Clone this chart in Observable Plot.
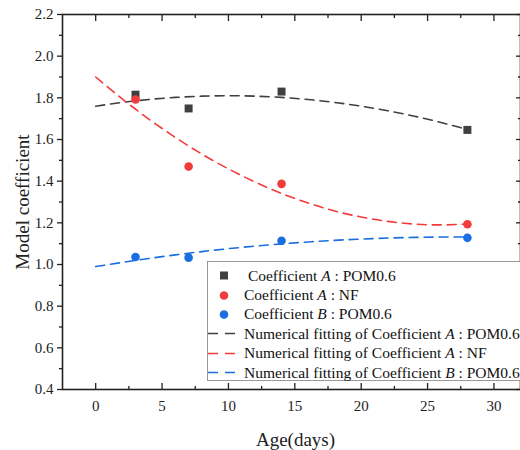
<!DOCTYPE html>
<html>
<head>
<meta charset="utf-8">
<script src="https://cdn.jsdelivr.net/npm/d3@7"></script>
<script src="https://cdn.jsdelivr.net/npm/@observablehq/plot@0.6"></script>
<style>
  html, body { margin: 0; padding: 0; background: #fff; }
  #wrap { position: relative; width: 520px; height: 450px; overflow: hidden; font-family: "Liberation Serif", "Times New Roman", serif; }
  #legend { position: absolute; left: 207px; top: 261px; width: 330px; height: 120px; border: 1px solid #9a9a9a; background: #fff; box-sizing: border-box; padding-top: 4px; }
  .row { height: 19.4px; display: flex; align-items: center; font-size: 15.5px; color: #111; white-space: nowrap; }
  .sw { width: 36px; height: 19px; flex: none; }
</style>
</head>
<body>
<div id="wrap"></div>
<script>
// ---- data ----
const days = [3, 7, 14, 28];
const coefA_POM = [1.815, 1.749, 1.830, 1.646];
const coefA_NF = [1.792, 1.470, 1.387, 1.193];
const coefB_POM = [1.036, 1.033, 1.114, 1.128];

const fitDays = [0, 2, 4, 6, 8, 10, 12, 14, 16, 18, 20, 22, 24, 26, 28];
const fitA_POM = [1.760, 1.778, 1.792, 1.802, 1.808, 1.810, 1.808, 1.802, 1.792, 1.778, 1.760, 1.738, 1.712, 1.682, 1.648];
const fitA_NF = [1.900, 1.795, 1.698, 1.610, 1.530, 1.459, 1.396, 1.341, 1.295, 1.257, 1.228, 1.207, 1.194, 1.190, 1.194];
const fitB_POM = [0.990, 1.010, 1.029, 1.046, 1.062, 1.076, 1.088, 1.099, 1.108, 1.116, 1.122, 1.127, 1.130, 1.132, 1.132];

const xTicks = [0, 5, 10, 15, 20, 25, 30];
const xMinorTicks = [2.5, 7.5, 12.5, 17.5, 22.5, 27.5];
const yTicks = [0.4, 0.6, 0.8, 1.0, 1.2, 1.4, 1.6, 1.8, 2.0, 2.2];
const yMinorTicks = [0.5, 0.7, 0.9, 1.1, 1.3, 1.5, 1.7, 1.9, 2.1];

const xLabel = "Age(days)";
const yLabel = "Model coefficient";

const legendItems = [
  {kind: "square", color: "#404040", html: "&nbsp;Coefficient <i>A</i> : POM0.6"},
  {kind: "circle", color: "#f23b3b", html: "Coefficient <i>A</i> : NF"},
  {kind: "circle", color: "#1b6ee0", html: "Coefficient <i>B</i> : POM0.6"},
  {kind: "dash", color: "#404040", html: "Numerical fitting of Coefficient <i>A</i> : POM0.6"},
  {kind: "dash", color: "#f23b3b", html: "Numerical fitting of Coefficient <i>A</i> : NF"},
  {kind: "dash", color: "#1b6ee0", html: "Numerical fitting of Coefficient <i>B</i> : POM0.6"}
];

const GRAY = "#404040", RED = "#f23b3b", BLUE = "#1b6ee0";

const pts = (xs, ys) => xs.map((x, i) => ({x, y: ys[i]}));
const dA = pts(days, coefA_POM), dN = pts(days, coefA_NF), dB = pts(days, coefB_POM);
const fA = pts(fitDays, fitA_POM), fN = pts(fitDays, fitA_NF), fB = pts(fitDays, fitB_POM);

const axisColor = "#222";
const chart = Plot.plot({
  width: 520,
  height: 450,
  marginLeft: 62,
  marginRight: 0,
  marginTop: 14,
  marginBottom: 61,
  style: {fontFamily: "Liberation Serif, Times New Roman, serif", fontSize: "15px", color: "#222", background: "#fff"},
  x: {domain: [-2.5, 32], axis: null},
  y: {domain: [0.4, 2.2], axis: null},
  marks: [
    // fitted dashed curves
    Plot.line(fA, {x: "x", y: "y", stroke: GRAY, strokeWidth: 1.6, strokeDasharray: "9,6", curve: "natural"}),
    Plot.line(fN, {x: "x", y: "y", stroke: RED, strokeWidth: 1.6, strokeDasharray: "9,6", curve: "natural"}),
    Plot.line(fB, {x: "x", y: "y", stroke: BLUE, strokeWidth: 1.6, strokeDasharray: "9,6", curve: "natural"}),
    // data points
    Plot.dot(dA, {x: "x", y: "y", symbol: "square", r: 4.5, fill: GRAY}),
    Plot.dot(dN, {x: "x", y: "y", symbol: "circle", r: 4.3, fill: RED}),
    Plot.dot(dB, {x: "x", y: "y", symbol: "circle", r: 4.3, fill: BLUE}),
    // axes: bottom (inward ticks) + labels
    Plot.axisX({anchor: "bottom", ticks: xTicks, tickSize: -6, fill: "none", stroke: axisColor, strokeWidth: 1.3, label: null}),
    Plot.axisX({anchor: "bottom", ticks: xMinorTicks, tickSize: -3, fill: "none", stroke: axisColor, strokeWidth: 1.3, label: null}),
    Plot.axisX({anchor: "bottom", ticks: xTicks, tickSize: 0, tickPadding: 11, fontSize: 15, fill: "#222", label: null}),
    // top axis (inward ticks)
    Plot.axisX({anchor: "top", ticks: xTicks, tickSize: -6, fill: "none", stroke: axisColor, strokeWidth: 1.3, label: null}),
    Plot.axisX({anchor: "top", ticks: xMinorTicks, tickSize: -3, fill: "none", stroke: axisColor, strokeWidth: 1.3, label: null}),
    // left axis (outward ticks) + labels
    Plot.axisY({anchor: "left", ticks: yTicks, tickSize: 5, tickPadding: 4, tickFormat: d3.format(".1f"), fontSize: 15, fill: "#222", stroke: axisColor, strokeWidth: 1.3, label: null}),
    Plot.axisY({anchor: "left", ticks: yMinorTicks, tickSize: 3, fill: "none", stroke: axisColor, strokeWidth: 1.3, label: null}),
    // right axis (inward ticks)
    Plot.axisY({anchor: "right", ticks: yTicks, tickSize: -5, fill: "none", stroke: axisColor, strokeWidth: 1.3, label: null}),
    Plot.axisY({anchor: "right", ticks: yMinorTicks, tickSize: -3, fill: "none", stroke: axisColor, strokeWidth: 1.3, label: null}),
    Plot.frame({stroke: axisColor, strokeWidth: 1.6}),
    // axis titles
    Plot.text([yLabel], {frameAnchor: "left", textAnchor: "middle", lineAnchor: "middle", dx: -40, rotate: -90, fontSize: 19, fill: "#222"}),
    Plot.text([xLabel], {frameAnchor: "bottom", textAnchor: "middle", lineAnchor: "middle", dx: 4, dy: 50, fontSize: 19, fill: "#222"})
  ]
});

const wrap = document.getElementById("wrap");
wrap.appendChild(chart);

// legend (inside plot area, lower right)
const leg = document.createElement("div");
leg.id = "legend";
for (const it of legendItems) {
  const row = document.createElement("div");
  row.className = "row";
  let sw;
  if (it.kind === "square") {
    sw = `<svg class="sw" viewBox="0 0 36 19"><rect x="12" y="5.5" width="8" height="8" fill="${it.color}"/></svg>`;
  } else if (it.kind === "circle") {
    sw = `<svg class="sw" viewBox="0 0 36 19"><circle cx="16" cy="9.5" r="4.3" fill="${it.color}"/></svg>`;
  } else {
    sw = `<svg class="sw" viewBox="0 0 36 19"><line x1="0" x2="28" y1="9.5" y2="9.5" stroke="${it.color}" stroke-width="1.6" stroke-dasharray="10,7"/></svg>`;
  }
  row.innerHTML = sw + `<span>${it.html}</span>`;
  leg.appendChild(row);
}
wrap.appendChild(leg);
</script>
</body>
</html>
